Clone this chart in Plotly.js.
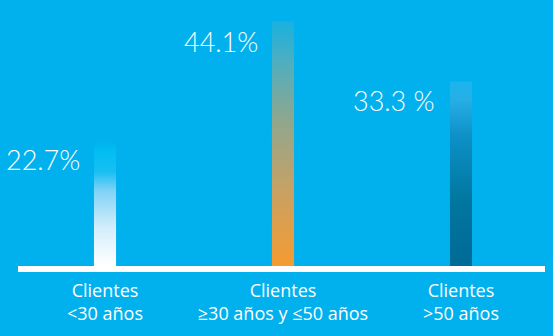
<!DOCTYPE html>
<html>
<head>
<meta charset="utf-8">
<script src="https://cdn.plot.ly/plotly-3.0.1.min.js"></script>
<style>html,body{margin:0;padding:0;background:#00b1ee;}#chart{width:553px;height:336px;}</style>
</head>
<body>
<div id="chart"></div>
<script>
// ---- data ----
const categories = ['Clientes<br>&lt;30 años', 'Clientes<br>≥30 años y ≤50 años', 'Clientes<br>&gt;50 años'];
const values = [22.7, 44.1, 33.3];
const valueLabels = ['22.7%', '44.1%', '33.3 %'];

// ---- styles ----
const bg = '#00b1ee';
const gradients = [
  [[0, '#ffffff'], [0.3, '#d4eefb'], [0.6, '#7fd2f6'], [0.75, '#17bff1'], [0.92, '#00bdf1'], [1, 'rgba(0,177,238,0.6)']],
  [[0, '#f59b31'], [0.3, '#c9a163'], [0.6, '#8ea78f'], [0.85, '#4aafc2'], [1, 'rgba(40,176,215,0.7)']],
  [[0, '#006a97'], [0.35, '#00779f'], [0.7, '#0c90c6'], [0.9, '#27aee6'], [1, 'rgba(40,182,236,0.7)']]
];
const halfW = 0.062;

const traces = values.map((v, i) => ({
  type: 'scatter',
  mode: 'none',
  x: [i - halfW, i + halfW, i + halfW, i - halfW, i - halfW],
  y: [0, 0, v, v, 0],
  fill: 'toself',
  fillgradient: { type: 'vertical', start: 0, stop: v, colorscale: gradients[i] },
  hoverinfo: 'skip',
  showlegend: false
}));

const annotations = values.map((v, i) => ({
  x: i - halfW - 0.07,
  y: v,
  xref: 'x', yref: 'y',
  xanchor: 'right', yanchor: 'top',
  yshift: -1,
  showarrow: false,
  text: valueLabels[i],
  font: { family: 'Lato', weight: 300, size: 27, color: '#ffffff' }
}));

const layout = {
  width: 553, height: 336,
  paper_bgcolor: bg, plot_bgcolor: bg,
  margin: { l: 0, r: 0, t: 0, b: 70 },
  xaxis: {
    range: [-0.59, 2.517],
    tickvals: categories.map((_, i) => i),
    ticktext: categories,
    showgrid: false, zeroline: false, showline: false, ticks: '',
    ticklabelstandoff: 12,
    tickfont: { family: 'Open Sans', size: 18, color: '#ffffff' },
    fixedrange: true
  },
  yaxis: { range: [0, 48], visible: false, fixedrange: true },
  shapes: [{
    type: 'rect', xref: 'paper', yref: 'paper',
    x0: 18 / 553, x1: 545 / 553, y0: 0, y1: -6 / 266,
    fillcolor: '#ffffff', line: { width: 0 }, layer: 'above'
  }],
  annotations: annotations,
  showlegend: false
};

Plotly.newPlot('chart', traces, layout, { displayModeBar: false, staticPlot: true });
</script>
</body>
</html>
